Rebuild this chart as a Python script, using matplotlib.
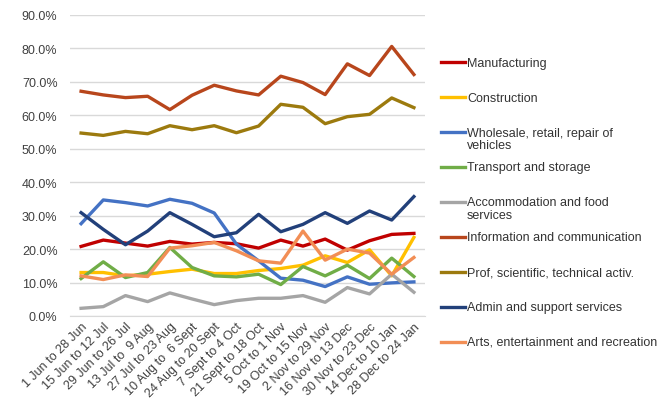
import matplotlib
matplotlib.use("Agg")
import matplotlib.pyplot as plt
from matplotlib.lines import Line2D
from matplotlib.ticker import FuncFormatter

plt.rcParams["font.family"] = ["Liberation Sans", "DejaVu Sans"]

periods = ["1 Jun to 28 Jun", "15 Jun to 12 Jul", "29 Jun to 26 Jul", "13 Jul to  9 Aug",
           "27 Jul to 23 Aug", "10 Aug to  6 Sept", "24 Aug to 20 Sept", "7 Sept to 4 Oct",
           "21 Sept to 18 Oct", "5 Oct to 1 Nov", "19 Oct to 15 Nov", "2 Nov to 29 Nov",
           "16 Nov to 13 Dec", "30 Nov to 23 Dec", "14 Dec to 10 Jan", "28 Dec to 24 Jan"]

manufacturing = [20.8, 22.7, 21.8, 20.9, 22.3, 21.5, 22.0, 21.6, 20.3, 22.7, 20.9, 23.0, 19.7, 22.5, 24.4, 24.7]
construction = [13.0, 13.0, 12.0, 12.5, 13.3, 14.0, 12.7, 12.7, 13.6, 14.2, 15.2, 18.0, 16.0, 19.8, 12.0, 23.5]
wholesale = [27.6, 34.7, 33.9, 32.9, 34.9, 33.7, 30.8, 21.5, 16.5, 11.3, 10.7, 8.8, 11.7, 9.5, 9.9, 10.2]
transport = [11.2, 16.2, 11.5, 13.0, 20.5, 14.5, 12.0, 11.7, 12.5, 9.4, 14.8, 12.0, 15.2, 11.2, 17.3, 11.8]
accommodation = [2.3, 2.8, 6.1, 4.3, 6.9, 5.1, 3.4, 4.6, 5.3, 5.3, 6.1, 4.1, 8.5, 6.6, 12.5, 7.1]
information = [67.2, 66.1, 65.3, 65.7, 61.7, 66.0, 69.0, 67.3, 66.1, 71.7, 69.8, 66.2, 75.4, 71.9, 80.6, 72.2]
prof = [54.7, 54.0, 55.2, 54.5, 56.9, 55.7, 56.9, 54.8, 56.8, 63.3, 62.4, 57.5, 59.6, 60.3, 65.2, 62.3]
admin = [30.9, 25.9, 21.3, 25.4, 30.9, 27.4, 23.7, 24.9, 30.4, 25.2, 27.4, 30.9, 27.7, 31.4, 28.7, 35.7]
arts = [12.0, 10.9, 12.3, 11.8, 20.3, 21.0, 22.0, 19.5, 16.5, 15.8, 25.4, 16.7, 20.0, 18.8, 12.5, 17.5]

series = [
    ("Manufacturing", manufacturing, "#C00000"),
    ("Construction", construction, "#FFC000"),
    ("Wholesale, retail, repair of\nvehicles", wholesale, "#4472C4"),
    ("Transport and storage", transport, "#70AD47"),
    ("Accommodation and food\nservices", accommodation, "#A5A5A5"),
    ("Information and communication", information, "#B8461C"),
    ("Prof, scientific, technical activ.", prof, "#9C7A0E"),
    ("Admin and support services", admin, "#22407A"),
    ("Arts, entertainment and recreation", arts, "#F28E55"),
]

W, H = 658, 402
fig = plt.figure(figsize=(W / 100, H / 100), dpi=100)
ax = fig.add_axes([70 / W, 1 - 317 / H, 355 / W, 301 / H])

x = range(len(periods))
for label, vals, color in series:
    ax.plot(x, vals, color=color, lw=2.4, solid_joinstyle="round", label=label)

ax.set_ylim(0, 90)
ax.set_xlim(-0.5, len(periods) - 0.5)
ax.set_yticks(range(0, 91, 10))
ax.yaxis.set_major_formatter(FuncFormatter(lambda v, _: f"{v:.1f}%"))
ax.grid(axis="y", color="#D9D9D9", lw=1)
ax.set_axisbelow(True)
for s in ["top", "right", "left"]:
    ax.spines[s].set_visible(False)
ax.spines["bottom"].set_color("#D9D9D9")
ax.tick_params(axis="y", length=0, pad=9, labelsize=9, labelcolor="#404040")
ax.tick_params(axis="x", length=0, pad=3, labelsize=9, labelcolor="#404040")
ax.set_xticks(list(x))
ax.set_xticklabels(periods, rotation=45, ha="right", rotation_mode="anchor")

# legend drawn by hand to keep the Excel-style fixed slot spacing
for i, (label, vals, color) in enumerate(series):
    yc = 63.3 + 34.9 * i
    fig.add_artist(Line2D([441 / W, 465 / W], [1 - yc / H, 1 - yc / H],
                          transform=fig.transFigure, color=color, lw=2.4))
    fig.text(467 / W, 1 - (yc - 5.5) / H, label, va="top", ha="left",
             fontsize=9, color="#333333", linespacing=1.05)

fig.savefig("out.png", dpi=100)
